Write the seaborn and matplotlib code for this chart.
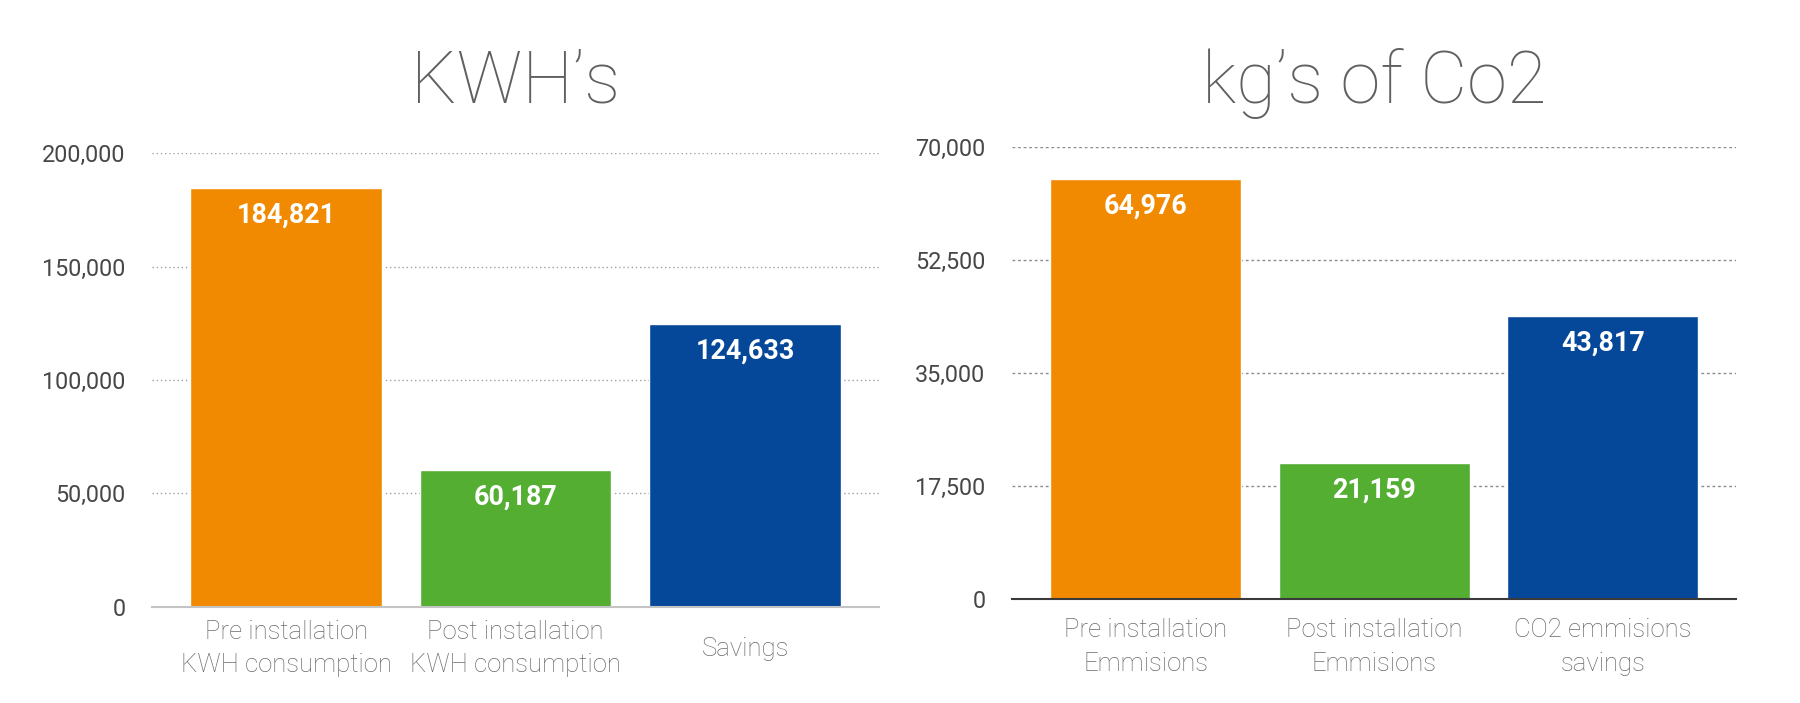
import matplotlib
matplotlib.use("Agg")
import matplotlib.pyplot as plt
import seaborn as sns
import pandas as pd
from matplotlib.ticker import FuncFormatter

# ---- data ----
kwh_categories = ["Pre installation\nKWH consumption", "Post installation\nKWH consumption", "Savings"]
kwh_values = [184821, 60187, 124633]
kwh_ticks = [0, 50000, 100000, 150000, 200000]

co2_categories = ["Pre installation\nEmmisions", "Post installation\nEmmisions", "CO2 emmisions\nsavings"]
co2_values = [64976, 21159, 43817]
co2_ticks = [0, 17500, 35000, 52500, 70000]

titles = ["KWH\u2019s", "kg\u2019s of Co2"]
bar_colors = ["#F18A00", "#53AE32", "#05489A"]

sns.set_theme(style="white")
plt.rcParams["font.family"] = ["Roboto", "DejaVu Sans"]

fig = plt.figure(figsize=(18, 7.03), dpi=100)
ax1 = fig.add_axes([0.0844, 0.1370, 0.4039, 0.6450])
ax2 = fig.add_axes([0.5622, 0.1475, 0.4022, 0.6438])

fmt = FuncFormatter(lambda v, p: f"{int(v):,}")

configs = [
    (ax1, kwh_categories, kwh_values, kwh_ticks, titles[0], "#c4c4c4", "#a0a0a0", (0, (1, 2)), 36.2, 30.2),
    (ax2, co2_categories, co2_values, co2_ticks, titles[1], "#3a3a3a", "#8c8c8c", (0, (2, 2)), 31.4, 34.5),
]

for ax, cats, vals, ticks, title, spine_col, grid_col, grid_ls, tpad, xpad in configs:
    df = pd.DataFrame({"cat": cats, "val": vals})
    sns.barplot(data=df, x="cat", y="val", hue="cat", palette=bar_colors,
                legend=False, width=0.835, ax=ax, saturation=1)
    ax.set_xlim(-0.585, 2.583)
    ax.set_ylim(0, ticks[-1])
    ax.set_yticks(ticks)
    ax.yaxis.set_major_formatter(fmt)
    ax.set_xlabel("")
    ax.set_ylabel("")
    ax.set_axisbelow(True)
    ax.yaxis.grid(True, color=grid_col, linestyle=grid_ls, linewidth=1.0)
    ax.xaxis.grid(False)
    for s in ["left", "right", "top"]:
        ax.spines[s].set_visible(False)
    ax.spines["bottom"].set_color(spine_col)
    ax.spines["bottom"].set_linewidth(1.5)
    ax.tick_params(axis="y", length=0, pad=19, labelsize=16.8, labelcolor="#474747")
    ax.tick_params(axis="x", length=0, pad=xpad, labelsize=18.5, labelcolor="#6a6a6a")
    for lab in ax.get_xticklabels():
        lab.set_va("center")
        lab.set_fontweight("light")
        lab.set_linespacing(1.5)
    ax.set_title(title, fontsize=52, color="#606060", fontweight="light", pad=tpad)
    for cont in ax.containers:
        texts = ax.bar_label(cont, labels=[f"{v:,}" for v in cont.datavalues.astype(int)],
                             padding=-10, color="white", fontsize=19.4, fontweight="bold")
        for t in texts:
            t.set_va("top")

fig.savefig("out.png", dpi=100, facecolor="white")
